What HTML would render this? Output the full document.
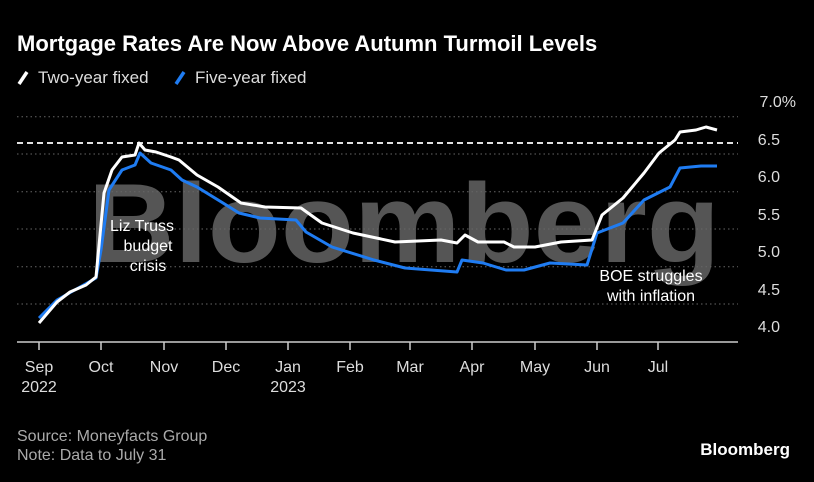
<!DOCTYPE html>
<html><head><meta charset="utf-8"><style>
body{margin:0;background:#000;width:814px;height:477px;overflow:hidden;font-family:"Liberation Sans",sans-serif;}
</style></head><body>
<svg width="814" height="477" xmlns="http://www.w3.org/2000/svg" font-family="Liberation Sans, sans-serif">
<rect width="814" height="477" fill="#000"/>
<text x="17" y="51" fill="#fff" font-size="22" font-weight="bold">Mortgage Rates Are Now Above Autumn Turmoil Levels</text>
<line x1="19" y1="84" x2="27" y2="72" stroke="#fff" stroke-width="3.5"/>
<text x="38" y="83" fill="#ddd" font-size="17">Two-year fixed</text>
<line x1="176" y1="84" x2="184" y2="72" stroke="#1f7cf2" stroke-width="3.5"/>
<text x="195" y="83" fill="#ddd" font-size="17">Five-year fixed</text>
<text x="88" y="262" fill="#555" font-size="112" font-weight="bold" textLength="632" lengthAdjust="spacingAndGlyphs">Bloomberg</text>
<g stroke="#666" stroke-width="1" stroke-dasharray="1.5,3">
<line x1="17" y1="116.7" x2="738" y2="116.7"/><line x1="17" y1="154" x2="738" y2="154"/>
<line x1="17" y1="191.7" x2="738" y2="191.7"/><line x1="17" y1="229" x2="738" y2="229"/>
<line x1="17" y1="266.7" x2="738" y2="266.7"/><line x1="17" y1="304" x2="738" y2="304"/>
</g>
<g fill="#ddd" font-size="16" text-anchor="end">
<text x="796" y="107">7.0%</text><text x="780" y="145">6.5</text><text x="780" y="182">6.0</text>
<text x="780" y="220">5.5</text><text x="780" y="257">5.0</text><text x="780" y="295">4.5</text><text x="780" y="332">4.0</text>
</g>
<line x1="17" y1="143" x2="738" y2="143" stroke="#fff" stroke-width="1.8" stroke-dasharray="6,4"/>
<polyline fill="none" stroke="#1f7cf2" stroke-width="3" stroke-linejoin="round" points="39,318 57,300 96,278 101,250 109,190 122,170 135,165 140,153 151,163 171,170 182,180 197,187 223,203 239,213 260,218 296,220 306,232 332,247 374,260 405,268 457,272 462,260 483,263 506,270 524,270 550,263 587,265 597,233 623,223 644,200 670,187 680,168 701,166 717,166"/>
<polyline fill="none" stroke="#fff" stroke-width="3" stroke-linejoin="round" points="39,323 57,302 70,292 86,285 96,277 104,193 112,170 122,157 135,155 139,143 145,150 156,152 171,157 179,160 197,175 218,187 241,203 265,207 301,208 322,223 353,233 395,242 441,240 457,243 465,235 478,242 504,242 514,247 535,247 561,242 592,240 602,215 623,198 644,173 659,153 675,140 680,132 696,130 706,127 717,130"/>
<g fill="#fff" font-size="16" text-anchor="middle">
<text x="142" y="231">Liz Truss</text><text x="148" y="251">budget</text><text x="148" y="271">crisis</text>
<text x="651" y="281">BOE struggles</text><text x="651" y="301">with inflation</text>
</g>
<line x1="17" y1="342" x2="738" y2="342" stroke="#ccc" stroke-width="1.5"/>
<g stroke="#ccc" stroke-width="1.5">
<line x1="39" y1="342" x2="39" y2="350"/><line x1="101" y1="342" x2="101" y2="350"/><line x1="164" y1="342" x2="164" y2="350"/>
<line x1="226" y1="342" x2="226" y2="350"/><line x1="288" y1="342" x2="288" y2="350"/><line x1="350" y1="342" x2="350" y2="350"/>
<line x1="410" y1="342" x2="410" y2="350"/><line x1="472" y1="342" x2="472" y2="350"/><line x1="535" y1="342" x2="535" y2="350"/>
<line x1="597" y1="342" x2="597" y2="350"/><line x1="658" y1="342" x2="658" y2="350"/>
</g>
<g fill="#ddd" font-size="16" text-anchor="middle">
<text x="39" y="372">Sep</text><text x="39" y="392">2022</text><text x="101" y="372">Oct</text><text x="164" y="372">Nov</text>
<text x="226" y="372">Dec</text><text x="288" y="372">Jan</text><text x="288" y="392">2023</text><text x="350" y="372">Feb</text>
<text x="410" y="372">Mar</text><text x="472" y="372">Apr</text><text x="535" y="372">May</text><text x="597" y="372">Jun</text><text x="658" y="372">Jul</text>
</g>
<text x="17" y="441" fill="#aaa" font-size="16">Source: Moneyfacts Group</text>
<text x="17" y="460" fill="#aaa" font-size="16">Note: Data to July 31</text>
<text x="790" y="455" fill="#fff" font-size="17" font-weight="bold" text-anchor="end">Bloomberg</text>
</svg>
</body></html>
